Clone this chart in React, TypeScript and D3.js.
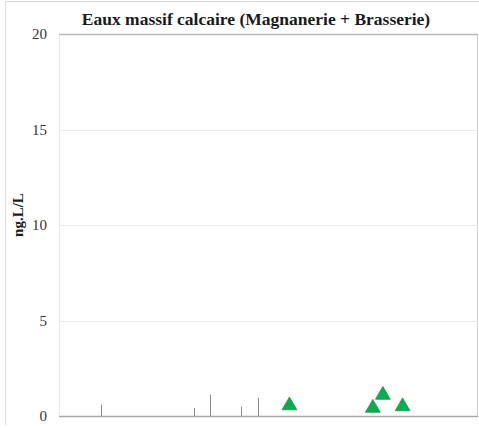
import React, { useEffect, useRef } from "react";
import * as d3 from "d3";

// sample positions along the (unlabelled) x axis, 0..100
const stickX = [10, 32.3, 36, 43.4, 47.6];
const stickValues = [0.59, 0.42, 1.13, 0.49, 0.96];
const triX = [55, 74.9, 77.3, 82];
const triValues = [0.55, 0.42, 1.1, 0.5];
const yTicks = [0, 5, 10, 15, 20];

const serif = "'Liberation Serif', 'Times New Roman', Times, 'DejaVu Serif', serif";

function App() {
  const ref = useRef<SVGSVGElement>(null);
  const width = 479;
  const height = 428;
  const marginTop = 34;
  const marginRight = 1;
  const marginBottom = 12;
  const marginLeft = 59;

  useEffect(() => {
    const svg = d3.select(ref.current);
    svg.selectAll("*").remove();

    const x = d3
      .scaleLinear()
      .domain([0, 100])
      .range([marginLeft, width - marginRight]);
    const y = d3
      .scaleLinear()
      .domain([0, 20])
      .range([height - marginBottom, marginTop]);

    // outer frame
    svg
      .append("path")
      .attr("d", `M5.5,${height - 3}V1.5H${width}`)
      .attr("fill", "none")
      .attr("stroke", "#d9d9d9");

    // title
    svg
      .append("text")
      .attr("x", 256)
      .attr("y", 25)
      .attr("text-anchor", "middle")
      .style("font-family", serif)
      .style("font-weight", "bold")
      .style("font-size", "17.5px")
      .attr("fill", "#1a1a1a")
      .text("Eaux massif calcaire (Magnanerie + Brasserie)");

    // grid
    svg
      .append("g")
      .selectAll("line")
      .data(yTicks.filter((d) => d > 0 && d < 20))
      .join("line")
      .attr("x1", marginLeft)
      .attr("x2", width - marginRight)
      .attr("y1", (d) => Math.round(y(d)) + 0.5)
      .attr("y2", (d) => Math.round(y(d)) + 0.5)
      .attr("stroke", "#ececec");

    // plot frame
    svg
      .append("line")
      .attr("x1", marginLeft + 0.5)
      .attr("x2", marginLeft + 0.5)
      .attr("y1", y(20))
      .attr("y2", y(0))
      .attr("stroke", "#e6e6e6");
    svg
      .append("line")
      .attr("x1", width - 1.5)
      .attr("x2", width - 1.5)
      .attr("y1", y(20))
      .attr("y2", y(0))
      .attr("stroke", "#d0d0d0");
    svg
      .append("line")
      .attr("x1", marginLeft)
      .attr("x2", width - 1)
      .attr("y1", Math.round(y(20)) + 0.5)
      .attr("y2", Math.round(y(20)) + 0.5)
      .attr("stroke", "#b8b8b8")
      .attr("stroke-width", 1.5);

    // y axis labels
    svg
      .append("g")
      .attr("transform", `translate(${marginLeft - 12},0)`)
      .call(d3.axisLeft(y).tickValues(yTicks).tickSize(0).tickPadding(0))
      .attr("font-family", null)
      .attr("font-size", null)
      .call((g) => g.select(".domain").remove())
      .call((g) =>
        g
          .selectAll("text")
          .style("font-family", serif)
          .style("font-size", "15px")
          .attr("fill", "#333")
      );

    svg
      .append("text")
      .attr("transform", `translate(23,215) rotate(-90)`)
      .attr("text-anchor", "middle")
      .style("font-family", serif)
      .style("font-weight", "bold")
      .style("font-size", "15px")
      .attr("fill", "#1a1a1a")
      .text("ng.L/L");

    // sticks
    svg
      .append("g")
      .selectAll("line")
      .data(stickX)
      .join("line")
      .attr("x1", (d) => Math.round(x(d)) + 0.5)
      .attr("x2", (d) => Math.round(x(d)) + 0.5)
      .attr("y1", y(0))
      .attr("y2", (d, i) => y(stickValues[i]))
      .attr("stroke", "#8c8c8c");

    // x axis line
    svg
      .append("line")
      .attr("x1", marginLeft)
      .attr("x2", width - 1)
      .attr("y1", Math.round(y(0)) + 0.5)
      .attr("y2", Math.round(y(0)) + 0.5)
      .attr("stroke", "#a6a6a6")
      .attr("stroke-width", 1.5);

    // triangles
    const tri = d3.symbol().type(d3.symbolTriangle).size(95);
    svg
      .append("g")
      .selectAll("path")
      .data(triX)
      .join("path")
      .attr("d", tri)
      .attr(
        "transform",
        (d, i) => `translate(${x(d)},${y(triValues[i])})`
      )
      .attr("fill", "#00b050")
      .attr("stroke", "#2e8b45")
      .attr("stroke-width", 0.8);
  }, []);

  return (
    <div style={{ position: "absolute", left: 0, top: 0 }}>
      <svg ref={ref} width={width} height={height} style={{ display: "block", background: "#fff" }}></svg>
    </div>
  );
}

export default App;
